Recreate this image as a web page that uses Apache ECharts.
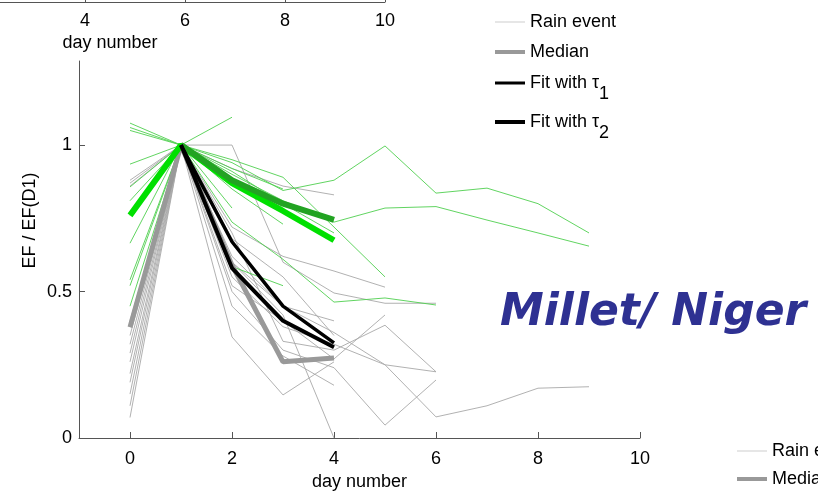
<!DOCTYPE html>
<html>
<head>
<meta charset="utf-8">
<script src="https://cdn.jsdelivr.net/npm/echarts@6/dist/echarts.min.js"></script>
<style>html,body{margin:0;padding:0;background:#fff}#c{width:818px;height:495px}</style>
</head>
<body>
<div id="c"></div>
<script>
// ---- data (value at day 0, 1, 2, ...) ----
const xTicks = [0, 2, 4, 6, 8, 10];
const yTicks = [0, 0.5, 1];
const topTicks = [0, 2, 4, 6, 8, 10];

const greyEvents = [
  [0.07, 1, 0.62, 0.45, 0.40],
  [0.11, 1, 0.55, 0.38, 0.32, 0.25, 0.226],
  [0.15, 1, 0.50, 0.30, 0.24, 0.044, 0.198],
  [0.19, 1, 0.345, 0.147, 0.26],
  [0.22, 1, 0.45, 0.28, 0.18],
  [0.26, 1, 0.60, 0.42, 0.0],
  [0.29, 1, 0.68, 0.55, 0.35],
  [0.32, 1, 0.72, 0.62, 0.57, 0.515],
  [0.35, 1, 0.52, 0.40, 0.27, 0.42],
  [0.86, 1, 1.0, 0.60, 0.495, 0.46, 0.46],
  [0.87, 1, 0.92, 0.86, 0.83],
  [0.88, 1, 0.70, 0.33, 0.30, 0.385, 0.226],
  [0.40, 1, 0.60, 0.45, 0.36, 0.25, 0.072, 0.11, 0.17, 0.175]
];
const greenEvents = [
  [1.075, 1, 1.095],
  [1.06, 1, 0.95, 0.89, 0.72, 0.55],
  [1.05, 1, 0.94, 0.845, 0.88, 0.997, 0.836, 0.853, 0.80, 0.70],
  [0.935, 1, 0.90, 0.81, 0.737, 0.785, 0.79, 0.744, 0.70, 0.655],
  [0.857, 1, 0.92, 0.85],
  [0.81, 1, 0.85, 0.73],
  [0.76, 1, 0.785],
  [0.665, 1, 0.585, 0.52],
  [0.54, 1, 0.737, 0.61, 0.464, 0.478, 0.454],
  [0.52, 1, 0.88, 0.78],
  [0.45, 1, 0.91, 0.80, 0.70]
];
const greyMedian  = [0.378, 1, 0.59, 0.26, 0.273];
const fitTau1     = [null, 1, 0.67, 0.45, 0.325];
const fitTau2     = [null, 1, 0.58, 0.40, 0.31];
const greenMedian = [0.76, 1, 0.87, 0.775, 0.675];
const greenFit    = [null, 1, 0.88, 0.80, 0.745];

// ---- build ----
function pts(arr) {
  const out = [];
  arr.forEach((v, i) => { if (v !== null) out.push([i, v]); });
  return out;
}
const FONT = 'Liberation Sans';
function lineSeries(name, arr, color, width) {
  return {
    name: name, type: 'line', xAxisIndex: 0, yAxisIndex: 0,
    data: pts(arr), showSymbol: false, symbol: 'none', silent: true,
    lineStyle: { color: color, width: width }, itemStyle: { color: color },
    animation: false, z: 2
  };
}
const series = [];
greyEvents.forEach(e => series.push(lineSeries('Rain event', e, '#a8a8a8', 0.9)));
greenEvents.forEach(e => series.push(lineSeries('Rain event green', e, '#4fcf4f', 0.9)));
series.push(Object.assign(lineSeries('Median', greyMedian, '#999999', 5), { z: 3 }));
series.push(Object.assign(lineSeries('Median green', greenMedian, '#00e000', 6), { z: 3 }));
series.push(Object.assign(lineSeries('Fit green', greenFit, '#22a322', 6), { z: 4 }));
series.push(Object.assign(lineSeries('Fit with τ1', fitTau1, '#000000', 3.5), { z: 5 }));
series.push(Object.assign(lineSeries('Fit with τ2', fitTau2, '#000000', 4), { z: 5 }));

const legendText = {
  fontFamily: FONT, fontSize: 18, color: '#000',
  rich: { s: { fontFamily: FONT, fontSize: 18, padding: [22, 0, 0, 0] } }
};
function legendFmt(name) {
  const m = name.match(/^(.*τ)(\d)$/);
  return m ? m[1] + '{s|' + m[2] + '}' : name;
}
function oneLegend(name, color, h, left, top) {
  return {
    data: [{ name: name, icon: 'rect', itemStyle: { color: color } }],
    left: left, top: top, padding: 0, itemWidth: 30, itemHeight: h,
    textStyle: legendText, formatter: legendFmt, selectedMode: false, orient: 'vertical'
  };
}

const chart = echarts.init(document.getElementById('c'), null, { renderer: 'canvas' });
chart.setOption({
  animation: false,
  backgroundColor: '#fff',
  grid: [
    { left: 79, right: 178, top: 61, bottom: 57, outerBoundsMode: 'none' },
    { left: -165, width: 550, top: -50, height: 52, outerBoundsMode: 'none' }
  ],
  xAxis: [
    {
      gridIndex: 0, type: 'value', min: -1, max: 10,
      name: 'day number', nameLocation: 'middle', nameGap: 33,
      nameTextStyle: { fontFamily: FONT, fontSize: 18, color: '#000' },
      axisLine: { onZero: false, lineStyle: { color: '#555', width: 1 } },
      axisTick: { inside: true, length: 6, customValues: xTicks, lineStyle: { color: '#555' } },
      axisLabel: { customValues: xTicks, fontFamily: FONT, fontSize: 18, color: '#000', margin: 12 },
      splitLine: { show: false }
    },
    {
      gridIndex: 1, type: 'value', min: -1, max: 10,
      name: 'day number', nameLocation: 'middle', nameGap: 32,
      nameTextStyle: { fontFamily: FONT, fontSize: 18, color: '#000' },
      axisLine: { onZero: false, lineStyle: { color: '#555', width: 1 } },
      axisTick: { inside: true, length: 6, customValues: topTicks, lineStyle: { color: '#555' } },
      axisLabel: { customValues: topTicks, fontFamily: FONT, fontSize: 18, color: '#000', margin: 10 },
      splitLine: { show: false }
    }
  ],
  yAxis: [
    {
      gridIndex: 0, type: 'value', min: 0, max: 1.287,
      name: 'EF / EF(D1)', nameLocation: 'middle', nameGap: 40, nameRotate: 90,
      nameMoveOverlap: false,
      nameTextStyle: { fontFamily: FONT, fontSize: 18, color: '#000', padding: [0, 0, 0, 58] },
      axisLine: { show: true, onZero: false, lineStyle: { color: '#555', width: 1 } },
      axisTick: { show: true, inside: true, length: 6, customValues: yTicks, lineStyle: { color: '#555' } },
      axisLabel: { customValues: yTicks, fontFamily: FONT, fontSize: 18, color: '#000', margin: 7 },
      splitLine: { show: false }
    },
    { gridIndex: 1, type: 'value', show: false, min: 0, max: 1 }
  ],
  legend: [
    oneLegend('Rain event', '#cccccc', 1, 495, 13),
    oneLegend('Median', '#999999', 4, 495, 43),
    oneLegend('Fit with τ1', '#000000', 3, 495, 74),
    oneLegend('Fit with τ2', '#000000', 4, 495, 113),
    {
      data: [{ name: 'Rain event', icon: 'rect', itemStyle: { color: '#cccccc' } }],
      left: 737, top: 442, padding: 0, itemWidth: 30, itemHeight: 1,
      textStyle: { fontFamily: FONT, fontSize: 18, color: '#000' }, selectedMode: false
    },
    {
      data: [{ name: 'Median', icon: 'rect', itemStyle: { color: '#999999' } }],
      left: 737, top: 470, padding: 0, itemWidth: 30, itemHeight: 4,
      textStyle: { fontFamily: FONT, fontSize: 18, color: '#000' }, selectedMode: false
    }
  ],
  graphic: [
    {
      type: 'text', left: 500, top: 292, silent: true,
      style: { text: 'Millet/ Niger', fill: '#2E3192',
               font: 'italic bold 44px "DejaVu Sans"' }
    }
  ],
  series: series
});
</script>
</body>
</html>
